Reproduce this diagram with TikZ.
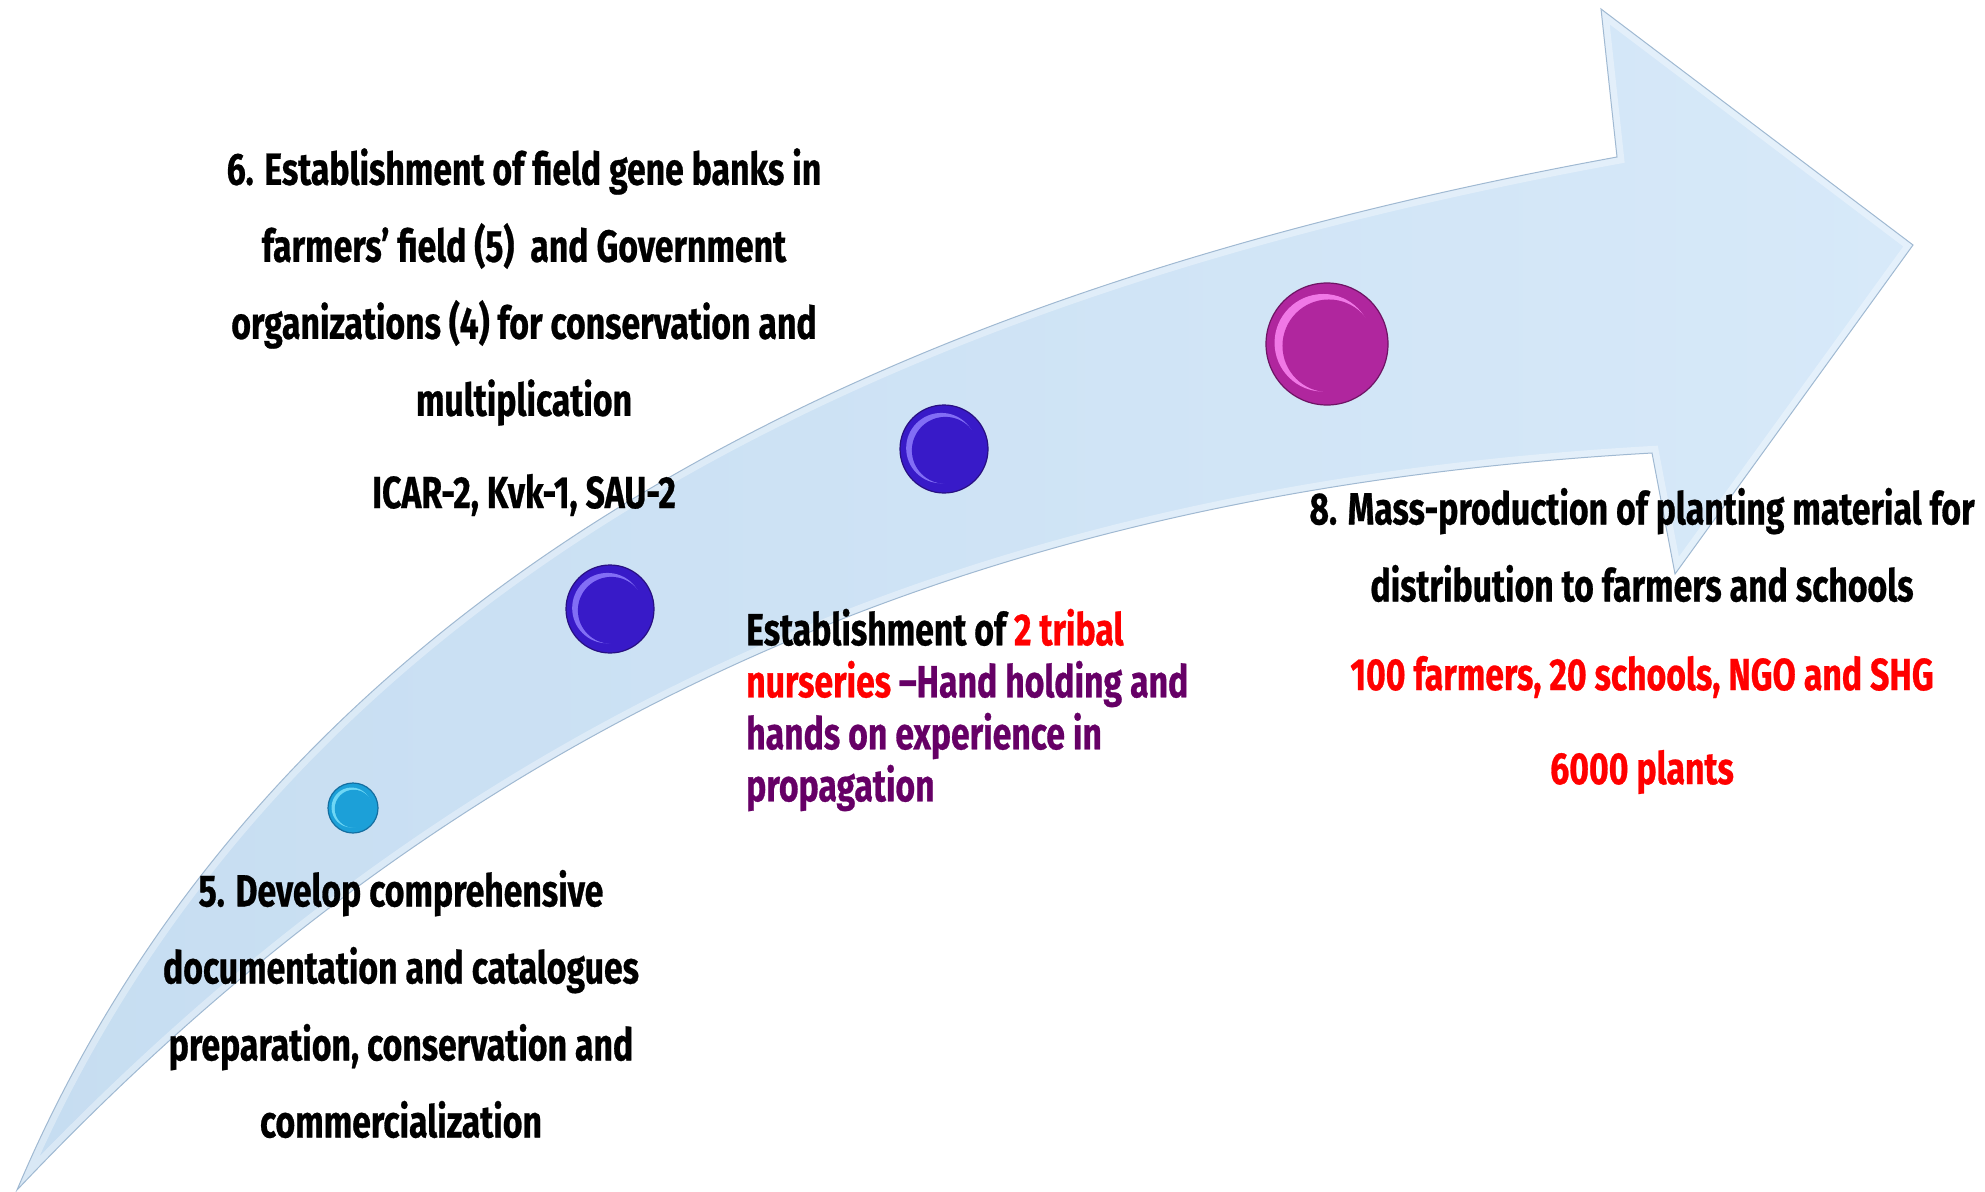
\documentclass[tikz,border=0pt]{standalone}
\usepackage{fontspec}
\setmainfont{Fira Sans}[FakeStretch=0.75, BoldFeatures={FakeBold=0.6}]
\usetikzlibrary{calc}
\definecolor{arrowL}{RGB}{198,221,241}
\definecolor{arrowR}{RGB}{215,233,249}
\definecolor{arrowedge}{RGB}{160,185,210}
\definecolor{tred}{RGB}{255,0,0}
\definecolor{tpurp}{RGB}{102,0,102}
\definecolor{bluebase}{RGB}{56,26,200}
\definecolor{bluerim}{RGB}{40,16,130}
\definecolor{bluelight}{RGB}{130,110,245}
\definecolor{magbase}{RGB}{176,38,158}
\definecolor{magrim}{RGB}{110,20,100}
\definecolor{maglight}{RGB}{240,120,230}
\definecolor{cyanbase}{RGB}{28,160,216}
\definecolor{cyanrim}{RGB}{20,110,160}
\definecolor{cyanlight}{RGB}{110,215,245}
\tikzset{
  txt/.style={font=\fontsize{45}{77}\selectfont\bfseries, align=center, inner sep=0pt},
  midtxt/.style={font=\fontsize{45}{52}\selectfont\bfseries, align=left, inner sep=0pt, anchor=west},
  bead/.style={circle, minimum size=#1, inner sep=0pt, line width=1.2pt}
}
\newcommand{\beadface}[5]{% node, radius, base, light, rim
  \fill[#4] ($(#1.center)+(-0.06*#2,-0.02*#2)$) circle ({0.80*#2 pt});
  \fill[#3] ($(#1.center)+(0.03*#2,0.03*#2)$) circle ({0.76*#2 pt});
}
\begin{document}
\begin{tikzpicture}[x=1pt,y=-1pt]
\useasboundingbox (0,0) rectangle (1985,1191);
% arrow
\coordinate (tail) at (17,1190);
\coordinate (uj) at (1617,157);
\coordinate (tb) at (1601,9);
\coordinate (tip) at (1913,245);
\coordinate (lb) at (1675,574);
\coordinate (lj) at (1652,453);
\def\arrowpath{(tail) .. controls (300,520) and (1000,270) .. (uj) -- (tb) -- (tip) -- (lb) -- (lj) .. controls (1000,490) and (480,700) .. (tail) -- cycle}
\shade[left color=arrowL, right color=arrowR] \arrowpath;
\begin{scope}
  \clip \arrowpath;
  \draw[white, opacity=0.35, line width=14pt, line join=miter] \arrowpath;
\end{scope}
\draw[arrowedge, line width=1pt, line join=miter] \arrowpath;
% beads
\node[bead=50pt, fill=cyanbase, draw=cyanrim] (b1) at (353,808) {};
\node[bead=88pt, fill=bluebase, draw=bluerim] (b2) at (610,609) {};
\node[bead=88pt, fill=bluebase, draw=bluerim] (b3) at (944,449) {};
\node[bead=122pt, fill=magbase, draw=magrim] (b4) at (1327,344) {};
\beadface{b1}{25}{cyanbase}{cyanlight}{cyanrim}
\beadface{b2}{44}{bluebase}{bluelight}{bluerim}
\beadface{b3}{44}{bluebase}{bluelight}{bluerim}
\beadface{b4}{61}{magbase}{maglight}{magrim}
% texts
\node[txt] (t6) at (524,287) {6. Establishment of field gene banks in\\farmers’ field (5)~ and Government\\organizations (4) for conservation and\\multiplication};
\node[txt] (icar) at (524,495) {ICAR-2, Kvk-1, SAU-2};
\node[txt] (t5) at (401,1004) {5. Develop comprehensive\\documentation and catalogues\\preparation, conservation and\\commercialization};
\node[midtxt] (t7) at (746,710) {Establishment of \textcolor{tred}{2 tribal}\\\textcolor{tred}{nurseries} \textcolor{tpurp}{–Hand holding and}\\\textcolor{tpurp}{hands on experience in}\\\textcolor{tpurp}{propagation}};
\node[txt] (t8) at (1642,545) {8. Mass-production of planting material for\\distribution to farmers and schools};
\node[txt, text=tred] (t8a) at (1642,677) {100 farmers, 20 schools, NGO and SHG};
\node[txt, text=tred] (t8b) at (1642,772) {6000 plants};
\end{tikzpicture}
\end{document}
